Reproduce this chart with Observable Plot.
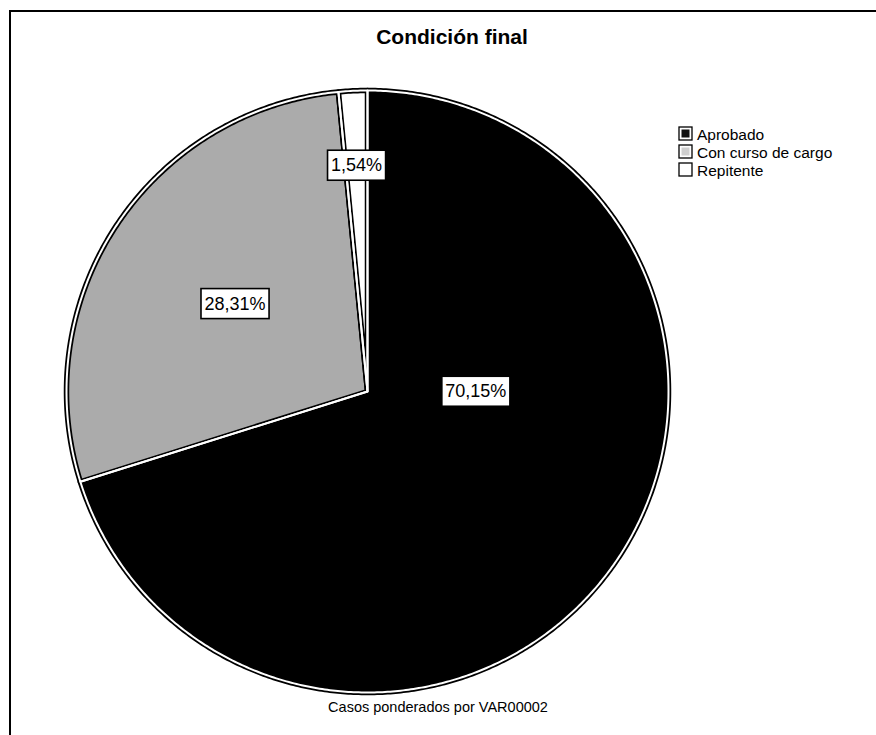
<!DOCTYPE html>
<html><head><meta charset="utf-8">
<script src="https://cdn.jsdelivr.net/npm/d3@7"></script>
<script src="https://cdn.jsdelivr.net/npm/@observablehq/plot@0.6"></script>
<style>
html,body{margin:0;padding:0;background:#fff;}
#page{position:relative;width:876px;height:735px;overflow:hidden;background:#fff;font-family:"Liberation Sans",Arial,sans-serif;}
#frame{position:absolute;left:9px;top:10px;width:900px;height:800px;border-top:2px solid #000;border-left:2px solid #000;}
#chart{position:absolute;left:47px;top:71px;}
#chart svg{background:transparent !important;}
#overlay{position:absolute;left:0;top:0;}
</style></head><body>
<div id="page"><div id="frame"></div><div id="chart"></div><svg id="overlay" width="876" height="735"></svg></div>
<script>
const title = "Condición final";
const caption = "Casos ponderados por VAR00002";
const categories = ["Aprobado", "Con curso de cargo", "Repitente"];
const percents = [70.15, 28.31, 1.54];
const pctLabels = ["70,15%", "28,31%", "1,54%"];
const sliceColors = ["#000000", "#ababab", "#ffffff"];
const swatchColors = ["#111111", "#cfcfcf", "#ffffff"];

const total = d3.sum(percents);
const TAU = Math.PI * 2;
let acc = 0;
const slices = categories.map((c, i) => {
  const a0 = acc / total * TAU;
  acc += percents[i];
  const a1 = acc / total * TAU;
  return {cat: c, p: percents[i] / total, a0, a1, label: pctLabels[i]};
});
const rows = [];
slices.forEach(s => {
  rows.push({cat: s.cat, x: 0, y: 0});
  const n = Math.max(2, Math.ceil((s.a1 - s.a0) / (Math.PI / 360)));
  for (let k = 0; k <= n; k++) {
    const a = s.a0 + (s.a1 - s.a0) * k / n;
    rows.push({cat: s.cat, x: Math.sin(a), y: Math.cos(a)});
  }
  rows.push({cat: s.cat, x: 0, y: 0});
});
const pmax = d3.max(slices, s => s.p);
const labelRows = slices.map(s => {
  const ang = Math.min((s.a0 + s.a1) / 2, s.a0 + Math.PI / 2);
  const dist = 0.36 + 0.46 * (1 - Math.sqrt(s.p / pmax));
  return {label: s.label, x: Math.sin(ang) * dist, y: Math.cos(ang) * dist};
});

const D = 320 / 301;
const chart = Plot.plot({
  width: 640, height: 640, margin: 0,
  x: {domain: [-D, D], axis: null},
  y: {domain: [-D, D], axis: null},
  color: {domain: categories, range: sliceColors},
  marks: [
    Plot.line(rows, {x: "x", y: "y", z: "cat", fill: "cat", stroke: "#000", strokeWidth: 5.5, strokeLinejoin: "round"}),
    Plot.line(rows, {x: "x", y: "y", z: "cat", stroke: "#fff", strokeWidth: 2, strokeLinejoin: "round"}),
    Plot.text(labelRows, {x: "x", y: "y", text: "label", fontSize: 18, fill: "#000", fontFamily: "Liberation Sans, Arial, sans-serif"})
  ]
});
document.getElementById("chart").append(chart);
const ns = "http://www.w3.org/2000/svg";
chart.querySelectorAll('g[aria-label="text"] text').forEach(t => {
  const b = t.getBBox();
  const r = document.createElementNS(ns, "rect");
  r.setAttribute("x", b.x - 3.5);
  r.setAttribute("y", b.y - 5);
  r.setAttribute("width", b.width + 7);
  r.setAttribute("height", b.height + 10);
  r.setAttribute("fill", "#fff");
  r.setAttribute("stroke", "#000");
  r.setAttribute("stroke-width", 1.6);
  if (t.getAttribute("transform")) r.setAttribute("transform", t.getAttribute("transform"));
  t.parentNode.insertBefore(r, t);
});

const ov = d3.select("#overlay");
ov.append("text").attr("x", 452).attr("y", 44).attr("text-anchor", "middle")
  .attr("font-size", 21).attr("font-weight", "bold").attr("font-family", "Liberation Sans, Arial, sans-serif").text(title);
ov.append("text").attr("x", 438).attr("y", 712).attr("text-anchor", "middle")
  .attr("font-size", 14.5).attr("font-family", "Liberation Sans, Arial, sans-serif").text(caption);
categories.forEach((c, i) => {
  const yb = 140 + 18 * i;
  ov.append("rect").attr("x", 679).attr("y", yb - 13).attr("width", 13).attr("height", 13)
    .attr("fill", "#fff").attr("stroke", "#000").attr("stroke-width", 1.3);
  if (i < 2) ov.append("rect").attr("x", 681.5).attr("y", yb - 10.5).attr("width", 8).attr("height", 8)
    .attr("fill", swatchColors[i]);
  ov.append("text").attr("x", 697).attr("y", yb).attr("font-size", 15.5)
    .attr("font-family", "Liberation Sans, Arial, sans-serif").text(c);
});
</script></body></html>
